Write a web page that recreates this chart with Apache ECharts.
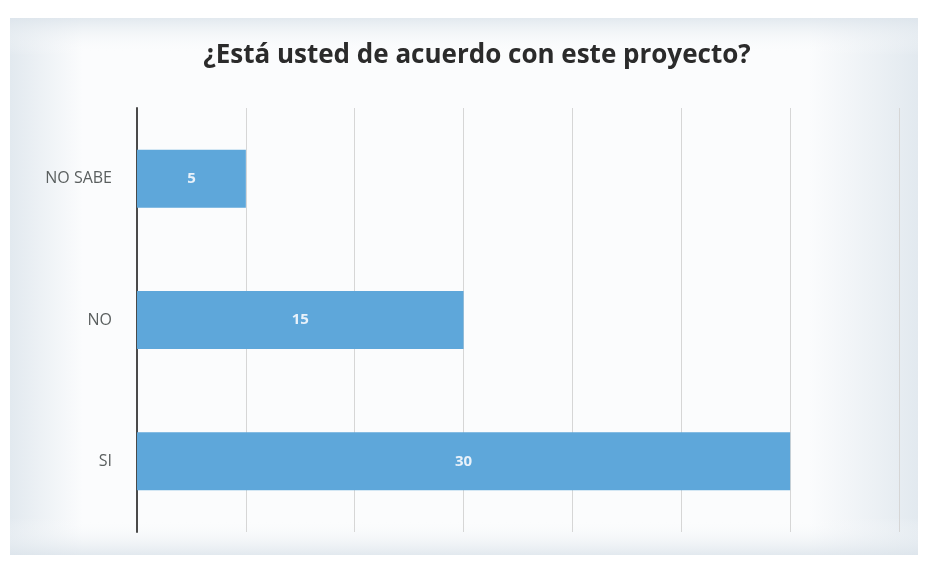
<!DOCTYPE html>
<html>
<head>
<meta charset="utf-8">
<script src="https://cdn.jsdelivr.net/npm/echarts@6/dist/echarts.min.js"></script>
<style>
  html, body { margin: 0; padding: 0; background: #ffffff; }
  #chart { width: 931px; height: 568px; }
</style>
</head>
<body>
<div id="chart"></div>
<script>
// Survey answers, listed top to bottom as drawn
const categories = ['NO SABE', 'NO', 'SI'];
const respuestas = [5, 15, 30];
const xTicks = { min: 0, max: 35, interval: 5 };

const chart = echarts.init(document.getElementById('chart'));

// soft grey-blue shading toward the edges of the chart panel
const sideShade = new echarts.graphic.LinearGradient(0, 0, 1, 0, [
  { offset: 0, color: '#e2e9ef' },
  { offset: 0.08, color: '#fbfcfd' },
  { offset: 0.88, color: '#fbfcfd' },
  { offset: 1, color: '#e2e9ef' }
]);
const edgeShade = new echarts.graphic.LinearGradient(0, 0, 0, 1, [
  { offset: 0, color: 'rgba(220,228,235,0.8)' },
  { offset: 0.07, color: 'rgba(255,255,255,0)' },
  { offset: 0.93, color: 'rgba(255,255,255,0)' },
  { offset: 1, color: 'rgba(220,228,235,0.8)' }
]);

chart.setOption({
  backgroundColor: '#ffffff',
  animation: false,
  graphic: [
    {
      type: 'rect', z: -10, silent: true,
      shape: { x: 10, y: 18, width: 908, height: 537 },
      style: { fill: sideShade }
    },
    {
      type: 'rect', z: -9, silent: true,
      shape: { x: 10, y: 18, width: 908, height: 537 },
      style: { fill: edgeShade }
    }
  ],
  title: {
    text: '¿Está usted de acuerdo con este proyecto?',
    left: 472,
    top: 38,
    textAlign: 'center',
    textStyle: {
      fontFamily: 'Open Sans',
      fontWeight: 'bold',
      fontSize: 26,
      color: '#2b2b2b'
    }
  },
  grid: { left: 137, right: 32, top: 108, bottom: 36, containLabel: false },
  xAxis: {
    type: 'value',
    min: xTicks.min,
    max: xTicks.max,
    interval: xTicks.interval,
    axisLabel: { show: false },
    axisLine: { show: false },
    axisTick: { show: false },
    splitLine: { show: true, lineStyle: { color: '#d6d6d6', width: 1 } }
  },
  yAxis: {
    type: 'category',
    inverse: true,
    data: categories,
    axisTick: { show: false },
    axisLine: { show: true, lineStyle: { color: '#4a4a4a', width: 2 } },
    axisLabel: {
      margin: 25,
      fontFamily: 'Open Sans',
      fontSize: 16,
      color: '#5a5f5f'
    }
  },
  series: [{
    type: 'bar',
    data: respuestas,
    barWidth: '41%',
    itemStyle: { color: '#5ea7da' },
    label: {
      show: true,
      position: 'inside',
      fontFamily: 'Open Sans',
      fontWeight: 'bold',
      fontSize: 15,
      color: '#e9f2fa'
    }
  }]
});
</script>
</body>
</html>
